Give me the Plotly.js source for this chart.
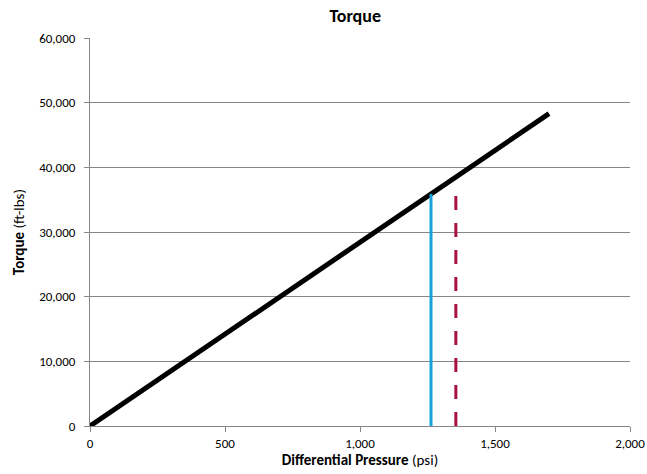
<!DOCTYPE html>
<html><head><meta charset="utf-8">
<script src="https://cdn.plot.ly/plotly-3.0.1.min.js"></script>
<style>body{margin:0;background:#fff}#chart{width:647px;height:474px}</style>
</head><body><div id="chart"></div>
<script>
var pressure = [0, 1700];
var torque = [0, 48300];
var bluePressure = [1263, 1263];
var blueTorque = [0, 35900];
var redPressure = [1355, 1355];
var redTorque = [0, 36500];
var xTicks = [0, 500, 1000, 1500, 2000];
var xTickText = ['0', '500', '1,000', '1,500', '2,000'];
var yTicks = [0, 10000, 20000, 30000, 40000, 50000, 60000];
var yTickText = ['0', '10,000', '20,000', '30,000', '40,000', '50,000', '60,000'];

var font = 'Carlito, Lato, sans-serif';
var traces = [
  {x: pressure, y: torque, mode: 'lines', line: {color: '#000000', width: 5}, hoverinfo: 'skip'},
  {x: bluePressure, y: blueTorque, mode: 'lines', line: {color: '#17A2DC', width: 3}, hoverinfo: 'skip'},
  {x: redPressure, y: redTorque, mode: 'lines', line: {color: '#A8123E', width: 3, dash: '14px,13px'}, hoverinfo: 'skip'}
];
var layout = {
  width: 647, height: 474,
  margin: {l: 90, r: 17, t: 38, b: 48},
  showlegend: false,
  paper_bgcolor: '#fff', plot_bgcolor: '#fff',
  font: {family: font, size: 13, color: '#000'},
  title: {text: '<b>Torque</b>', font: {family: font, size: 18, color: '#000'}, x: 0.549, xanchor: 'center', y: 0.966, yanchor: 'middle'},
  xaxis: {
    range: [0, 2000], tickvals: xTicks, ticktext: xTickText,
    showgrid: false, zeroline: false, showline: true, linecolor: '#868686', linewidth: 1,
    ticks: 'outside', ticklen: 5, tickcolor: '#868686',
    tickfont: {family: font, size: 13, color: '#000'},
    title: {text: '<b>Differential Pressure</b> (psi)', font: {family: font, size: 15, color: '#000'}, standoff: 2}
  },
  yaxis: {
    range: [0, 60000], tickvals: yTicks, ticktext: yTickText,
    showgrid: true, gridcolor: '#868686', gridwidth: 1,
    zeroline: false, showline: true, linecolor: '#868686', linewidth: 1,
    ticks: 'outside', ticklen: 5, tickcolor: '#868686', ticklabelstandoff: 6,
    tickfont: {family: font, size: 13, color: '#000'},
    title: {text: '<b>Torque</b> (ft-lbs)', font: {family: font, size: 15, color: '#000'}, standoff: 10}
  }
};
Plotly.newPlot('chart', traces, layout, {displayModeBar: false, staticPlot: true});
</script></body></html>
